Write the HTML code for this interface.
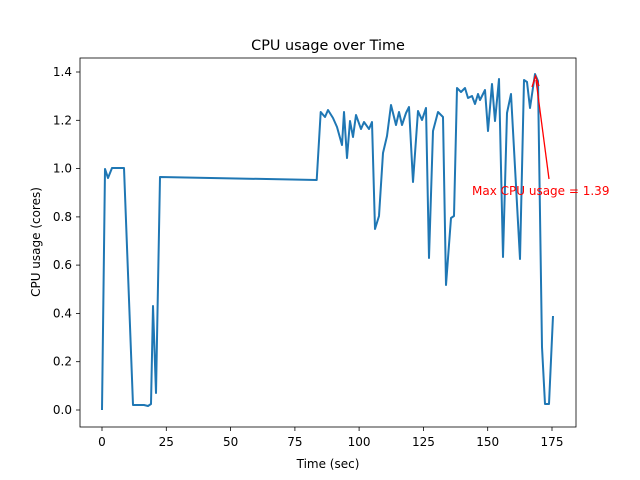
<!DOCTYPE html><html><head><style>body{margin:0;background:#fff}svg{display:block;font-family:"DejaVu Sans","Liberation Sans",sans-serif}</style></head><body>
<svg width="640" height="480" xmlns="http://www.w3.org/2000/svg">
<rect x="80" y="58" width="496" height="369" fill="none" stroke="#000" stroke-width="0.8"/>
<g stroke="#000" stroke-width="0.8">
<line x1="102" y1="427" x2="102" y2="431"/><line x1="166.3" y1="427" x2="166.3" y2="431"/><line x1="230.6" y1="427" x2="230.6" y2="431"/><line x1="294.9" y1="427" x2="294.9" y2="431"/><line x1="359.1" y1="427" x2="359.1" y2="431"/><line x1="423.4" y1="427" x2="423.4" y2="431"/><line x1="487.7" y1="427" x2="487.7" y2="431"/><line x1="552" y1="427" x2="552" y2="431"/>
<line x1="76" y1="410" x2="80" y2="410"/><line x1="76" y1="361.7" x2="80" y2="361.7"/><line x1="76" y1="313.4" x2="80" y2="313.4"/><line x1="76" y1="265.1" x2="80" y2="265.1"/><line x1="76" y1="216.9" x2="80" y2="216.9"/><line x1="76" y1="168.6" x2="80" y2="168.6"/><line x1="76" y1="120.3" x2="80" y2="120.3"/><line x1="76" y1="72" x2="80" y2="72"/>
</g>
<g font-size="12" text-anchor="middle" fill="#000">
<text x="102" y="446">0</text><text x="166.3" y="446">25</text><text x="230.6" y="446">50</text><text x="294.9" y="446">75</text><text x="359.1" y="446">100</text><text x="423.4" y="446">125</text><text x="487.7" y="446">150</text><text x="552" y="446">175</text>
</g>
<g font-size="12" text-anchor="end" fill="#000">
<text x="72" y="414">0.0</text><text x="72" y="365.7">0.2</text><text x="72" y="317.4">0.4</text><text x="72" y="269.1">0.6</text><text x="72" y="220.9">0.8</text><text x="72" y="172.6">1.0</text><text x="72" y="124.3">1.2</text><text x="72" y="76">1.4</text>
</g>
<text x="328" y="468" font-size="12" text-anchor="middle">Time (sec)</text>
<text transform="translate(40,242) rotate(-90)" font-size="12" text-anchor="middle">CPU usage (cores)</text>
<text x="328" y="50" font-size="14.4" text-anchor="middle">CPU usage over Time</text>
<polyline fill="none" stroke="#1f77b4" stroke-width="2" stroke-linejoin="round" points="102,410 105,169 108,178 112,168 124,168 133,405 144,405 148,406 151,404 153,306 156,393 160,177 316.7,180 320.7,112 325,117 328,110 333,118 337,127 342,145 344,112 347,158 350,121 353,137 356,115 361,129 364,122 369,129 372,122 375,229 379,216 383,153 387,136 391,105 396,125 399,112 402,125 406,113 409,107 413,182 418,111 422,120 426,108 429,258 433,131 438,112 443,117 446,285 451,218 454,216 457,88 461,92 465,88 468,98 472,96 475,104 478,94 480,100 485,90 488,131 492,84 495,121 499,79 503,257 507,113 511,94 520,259 524,80 527,82 530,108 535,74 538,81 542,347 545,404 549,404 553,316"/>
<line x1="549" y1="179" x2="536" y2="80" stroke="red" stroke-width="1.3"/>
<polyline points="532,87 535.5,76 539,86" fill="none" stroke="red" stroke-width="1.3"/>
<text x="472" y="195" font-size="12" fill="red">Max CPU usage = 1.39</text>
</svg>
</body></html>
